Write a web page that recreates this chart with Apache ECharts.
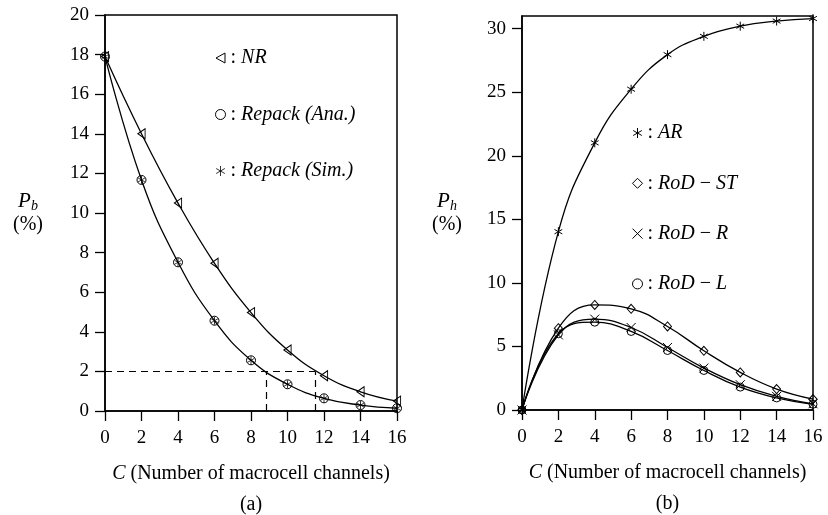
<!DOCTYPE html>
<html>
<head>
<meta charset="utf-8">
<script src="https://cdn.jsdelivr.net/npm/echarts@6.0.0/dist/echarts.min.js"></script>
<style>
  html, body { margin: 0; padding: 0; background: #fff; }
  #chart { width: 828px; height: 515px; }
</style>
</head>
<body>
<div id="chart"></div>
<script>
// channels on the x axis, same for both panels
var channels = [0, 2, 4, 6, 8, 10, 12, 14, 16];

// (a) blocking probability P_b (%)
var nrPb = [17.9, 14.0, 10.5, 7.46, 4.97, 3.08, 1.78, 0.97, 0.5];
var repackAna = [17.9, 11.67, 7.51, 4.56, 2.56, 1.35, 0.64, 0.3, 0.14];
var repackSim = [17.9, 11.67, 7.51, 4.56, 2.56, 1.35, 0.64, 0.3, 0.14];
var pbLevel = 2;
var pbCrossRepack = 8.81;
var pbCrossNR = 11.53;

// (b) handoff probability P_h (%)
var ar = [0, 14.03, 21.02, 25.24, 27.96, 29.4, 30.2, 30.6, 30.8];
var rodST = [0, 6.44, 8.27, 7.96, 6.57, 4.66, 2.96, 1.65, 0.86];
var rodR = [0, 5.91, 7.15, 6.49, 4.92, 3.3, 1.99, 1.07, 0.49];
var rodL = [0, 6.0, 6.91, 6.18, 4.68, 3.11, 1.8, 0.95, 0.45];

var FONT = 'Liberation Serif';
var triLeft = 'path://M0,5 L9,0 L9,10 Z';
var star = 'path://M5,0 L5,10 M0.67,2.5 L9.33,7.5 M0.67,7.5 L9.33,2.5';
var cross = 'path://M0,0 L10,10 M0,10 L10,0';

var legendText = {
  'NR': '{r|:} {i|NR}',
  'Repack (Ana.)': '{r|:} {i|Repack (Ana.)}',
  'Repack (Sim.)': '{r|:} {i|Repack (Sim.)}',
  'AR': '{r|:} {i|AR}',
  'RoD-ST': '{r|:} {i|RoD} − {i|ST}',
  'RoD-R': '{r|:} {i|RoD} − {i|R}',
  'RoD-L': '{r|:} {i|RoD} − {i|L}'
};

function pairs(ys) {
  return channels.map(function (x, i) { return [x, ys[i]]; });
}

var hollow = { color: 'rgba(0,0,0,0)', borderColor: '#000', borderWidth: 1 };
var blackLine = { color: '#000', width: 1.3 };

function curve(name, ys, symbol, size, grid) {
  return {
    name: name, type: 'line', xAxisIndex: grid, yAxisIndex: grid,
    data: pairs(ys), smooth: 0.45, symbol: symbol, symbolSize: size,
    symbolKeepAspect: true, showAllSymbol: true,
    itemStyle: hollow, lineStyle: blackLine, z: 3
  };
}

function legendBox(left, top, gap, data) {
  return {
    orient: 'vertical', left: left, top: top, padding: 0, itemGap: gap,
    itemWidth: 10, itemHeight: 10, selectedMode: false,
    data: data,
    formatter: function (n) { return legendText[n]; },
    itemStyle: { color: 'rgba(0,0,0,0)', borderColor: '#000', borderWidth: 1 },
    textStyle: {
      fontFamily: FONT, fontSize: 20, color: '#000', lineHeight: 20,
      rich: {
        r: { fontFamily: FONT, fontSize: 20, color: '#000' },
        i: { fontFamily: FONT, fontSize: 20, fontStyle: 'italic', color: '#000' }
      }
    }
  };
}

function xAxis(grid, tag) {
  return {
    type: 'value', gridIndex: grid, min: 0, max: 16, interval: 2,
    name: '{i|C} (Number of macrocell channels)\n{l|(' + tag + ')}',
    nameLocation: 'middle', nameGap: 51,
    nameTextStyle: {
      fontFamily: FONT, fontSize: 20, color: '#000',
      rich: {
        i: { fontFamily: FONT, fontSize: 20, fontStyle: 'italic', color: '#000', lineHeight: 24 },
        l: { fontFamily: FONT, fontSize: 20, color: '#000', lineHeight: 38 }
      }
    },
    axisLine: { lineStyle: { color: '#000', width: 1.5 } },
    axisTick: { inside: false, length: 10, lineStyle: { color: '#000', width: 1.3 } },
    axisLabel: { fontFamily: FONT, fontSize: 19, color: '#000', margin: 18 },
    splitLine: { show: false }
  };
}

function yAxis(grid, max, interval, sub, gap) {
  return {
    type: 'value', gridIndex: grid, min: 0, max: max, interval: interval,
    name: '{p|P}{s|' + sub + '}\n{t|(%)}',
    nameLocation: 'middle', nameRotate: 0, nameGap: gap,
    nameTextStyle: {
      fontFamily: FONT, fontSize: 20, color: '#000',
      rich: {
        p: { fontFamily: FONT, fontSize: 21, fontStyle: 'italic', color: '#000', lineHeight: 24, align: 'center' },
        s: { fontFamily: FONT, fontSize: 14, fontStyle: 'italic', color: '#000', lineHeight: 14, verticalAlign: 'bottom', align: 'center' },
        t: { fontFamily: FONT, fontSize: 20, color: '#000', lineHeight: 24, align: 'center' }
      }
    },
    axisLine: { lineStyle: { color: '#000', width: 1.5 } },
    axisTick: { inside: false, length: 10, lineStyle: { color: '#000', width: 1.3 } },
    axisLabel: { fontFamily: FONT, fontSize: 19, color: '#000', margin: 16, showMaxLabel: max % interval === 0 },
    splitLine: { show: false }
  };
}

var chart = echarts.init(document.getElementById('chart'));

var option = {
  animation: false,
  backgroundColor: '#fff',
  grid: [
    { left: 105, top: 15, width: 292, height: 396, show: true, borderColor: '#000', borderWidth: 1.5, backgroundColor: 'transparent', outerBoundsMode: 'none' },
    { left: 522, top: 16, width: 291, height: 394, show: true, borderColor: '#000', borderWidth: 1.5, backgroundColor: 'transparent', outerBoundsMode: 'none' }
  ],
  xAxis: [xAxis(0, 'a'), xAxis(1, 'b')],
  yAxis: [yAxis(0, 20, 2, 'b', 62), yAxis(1, 31, 5, 'h', 60)],
  legend: [
    legendBox(215, 48, 36.5, [
      { name: 'NR', icon: triLeft },
      { name: 'Repack (Ana.)', icon: 'circle' },
      { name: 'Repack (Sim.)', icon: star }
    ]),
    legendBox(632, 123, 30.3, [
      { name: 'AR', icon: star },
      { name: 'RoD-ST', icon: 'diamond' },
      { name: 'RoD-R', icon: cross },
      { name: 'RoD-L', icon: 'circle' }
    ])
  ],
  series: [
    Object.assign(curve('NR', nrPb, triLeft, [8, 10], 0), {
      markLine: {
        silent: true, symbol: 'none', label: { show: false },
        lineStyle: { color: '#000', width: 1.2, type: [7, 5] },
        data: [
          [{ coord: [0, pbLevel] }, { coord: [pbCrossNR, pbLevel] }],
          [{ coord: [pbCrossRepack, 0] }, { coord: [pbCrossRepack, pbLevel] }],
          [{ coord: [pbCrossNR, 0] }, { coord: [pbCrossNR, pbLevel] }]
        ]
      }
    }),
    curve('Repack (Ana.)', repackAna, 'circle', 9, 0),
    {
      name: 'Repack (Sim.)', type: 'scatter', xAxisIndex: 0, yAxisIndex: 0,
      data: pairs(repackSim), symbol: star, symbolSize: 8, symbolKeepAspect: true,
      itemStyle: hollow, z: 4
    },
    curve('AR', ar, star, 9, 1),
    curve('RoD-ST', rodST, 'diamond', [8, 9], 1),
    curve('RoD-R', rodR, cross, 9, 1),
    curve('RoD-L', rodL, 'circle', 8, 1)
  ]
};

chart.setOption(option);
</script>
</body>
</html>
